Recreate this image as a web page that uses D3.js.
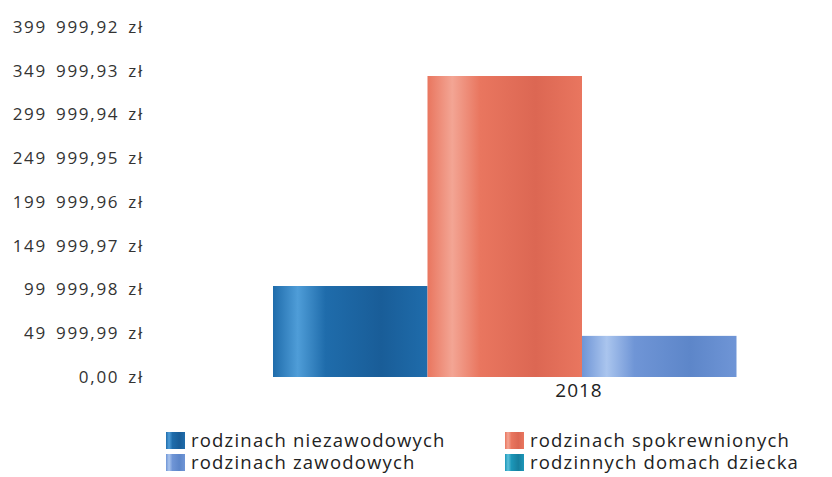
<!DOCTYPE html>
<html>
<head>
<meta charset="utf-8">
<script src="https://cdn.jsdelivr.net/npm/d3@7"></script>
<style>
  body { margin: 0; background: #fff; }
  svg { display: block; font-family: "Open Sans", "Noto Sans", sans-serif; }
</style>
</head>
<body>
<div id="chart"></div>
<script>
// data
var years = ["2018"];
var series = ["rodzinach niezawodowych", "rodzinach spokrewnionych", "rodzinach zawodowych", "rodzinnych domach dziecka"];
var values2018 = [104000, 344000, 47000, 0];
var tickValues = [0, 49999.99, 99999.98, 149999.97, 199999.96, 249999.95, 299999.94, 349999.93, 399999.92];
var tickLabels = ["0,00 zł", "49 999,99 zł", "99 999,98 zł", "149 999,97 zł", "199 999,96 zł", "249 999,95 zł", "299 999,94 zł", "349 999,93 zł", "399 999,92 zł"];
var colors = ["#1f6cab", "#e9765f", "#6f95d6", "#1c97b9"];
var highlights = ["#4f9dd8", "#f3a594", "#aac5ee", "#5cc0da"];
var shades = ["#195d98", "#dc6753", "#5d86c9", "#167f9e"];

var width = 832, height = 477;

var svg = d3.select("#chart").append("svg")
    .attr("width", width)
    .attr("height", height);

// cylinder-ish gradients like the original
var defs = svg.append("defs");
colors.forEach(function(c, i) {
    var g = defs.append("linearGradient")
        .attr("id", "grad" + i)
        .attr("x1", "0%").attr("x2", "100%")
        .attr("y1", "0%").attr("y2", "0%");
    g.append("stop").attr("offset", "0%").attr("stop-color", c);
    g.append("stop").attr("offset", "16%").attr("stop-color", highlights[i]);
    g.append("stop").attr("offset", "34%").attr("stop-color", c);
    g.append("stop").attr("offset", "70%").attr("stop-color", shades[i]);
    g.append("stop").attr("offset", "100%").attr("stop-color", c);
});

var y = d3.scaleLinear()
    .domain([0, 399999.92])
    .range([377, 27]);

var x0 = d3.scaleBand()
    .domain(years)
    .range([273, 891]);

var x1 = d3.scaleBand()
    .domain(series)
    .range([0, x0.bandwidth()]);

// y axis, labels only
var yAxis = d3.axisLeft(y)
    .tickValues(tickValues)
    .tickFormat(function(d, i) { return tickLabels[i]; })
    .tickSize(0)
    .tickPadding(0);

svg.append("g")
    .attr("transform", "translate(144,0)")
    .call(yAxis)
    .call(function(g) { g.select(".domain").remove(); })
    .selectAll("text")
        .attr("font-size", 17)
        .attr("font-family", "Open Sans")
        .attr("letter-spacing", 1.7)
        .attr("word-spacing", 3)
        .attr("fill", "#333");

// bars
var group = svg.selectAll("g.year")
    .data(years)
    .enter().append("g")
    .attr("class", "year")
    .attr("transform", function(d) { return "translate(" + x0(d) + ",0)"; });

group.selectAll("rect")
    .data(series.map(function(s, i) { return {key: s, value: values2018[i], i: i}; }))
    .enter().append("rect")
    .attr("x", function(d) { return x1(d.key); })
    .attr("y", function(d) { return y(d.value); })
    .attr("width", x1.bandwidth())
    .attr("height", function(d) { return y(0) - y(d.value); })
    .attr("fill", function(d) { return "url(#grad" + d.i + ")"; });

// x axis label
var xAxis = d3.axisBottom(x0).tickSize(0).tickPadding(0);
svg.append("g")
    .attr("transform", "translate(-3,383)")
    .call(xAxis)
    .call(function(g) { g.select(".domain").remove(); })
    .selectAll("text")
        .attr("font-size", 19)
        .attr("font-family", "Open Sans")
        .attr("letter-spacing", 1)
        .attr("fill", "#222");

// legend, two columns
var legendPos = [[166, 432], [505, 432], [166, 454], [505, 454]];
var legend = svg.append("g")
    .selectAll("g")
    .data(series)
    .enter().append("g")
    .attr("transform", function(d, i) { return "translate(" + legendPos[i][0] + "," + legendPos[i][1] + ")"; });

legend.append("rect")
    .attr("width", 19)
    .attr("height", 17)
    .attr("fill", function(d, i) { return "url(#grad" + i + ")"; });

legend.append("text")
    .attr("x", 25)
    .attr("y", 15)
    .attr("font-size", 18.5)
    .attr("letter-spacing", 1.2)
    .attr("fill", "#222")
    .text(function(d) { return d; });
</script>
</body>
</html>
